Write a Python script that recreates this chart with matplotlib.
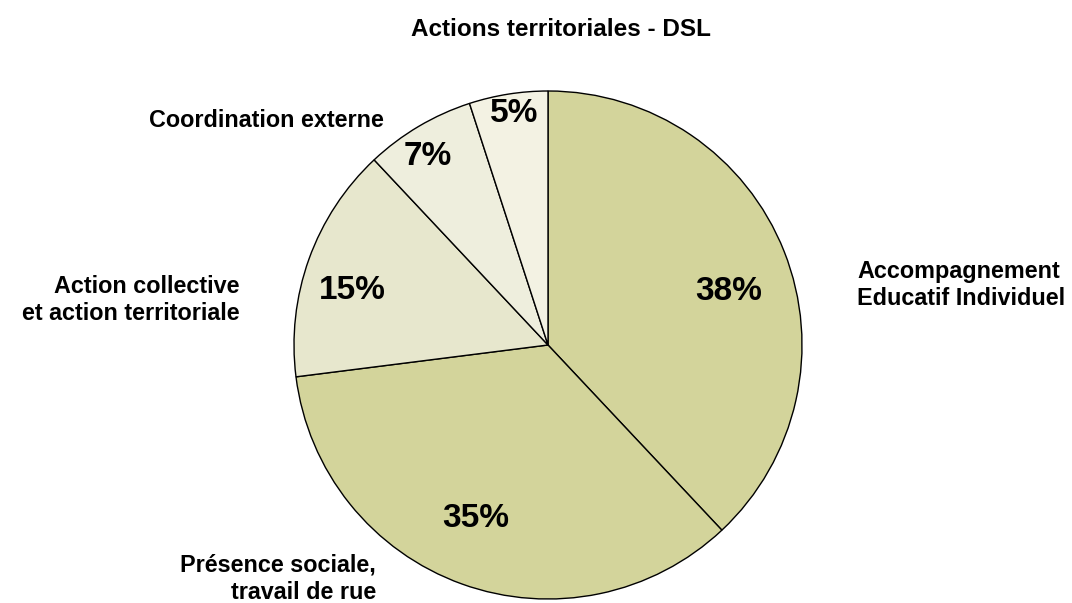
import numpy as np
import matplotlib
matplotlib.use("Agg")
import matplotlib.pyplot as plt

plt.rcParams["font.family"] = ["Liberation Sans", "DejaVu Sans"]

TITLE = "Actions territoriales - DSL"
categories = [
    "Accompagnement\nEducatif Individuel",
    "Présence sociale,\ntravail de rue",
    "Action collective\net action territoriale",
    "Coordination externe",
    "",
]
shares = [38, 35, 15, 7, 5]
colors = ["#d3d49b", "#d3d49b", "#e7e7cd", "#eeeedd", "#f3f2e3"]

# label placement (data units of the pie axes, radius = 1)
label_pos = [(1.217, 0.236), (-0.677, -0.921), (-1.213, 0.177), (-0.646, 0.882), (0, 0)]
label_ha = ["left", "right", "right", "right", "right"]
pct_pos = [(0.713, 0.209), (-0.283, -0.685), (-0.772, 0.213), (-0.472, 0.744), (-0.134, 0.913)]

W, H = 1072, 603
fig = plt.figure(figsize=(W / 100, H / 100), dpi=100)
cx, cy, r = 548, 345, 254
ax = fig.add_axes([(cx - r) / W, (H - cy - r) / H, 2 * r / W, 2 * r / H])

ax.pie(
    shares,
    colors=colors,
    startangle=90,
    counterclock=False,
    radius=1,
    wedgeprops={"edgecolor": "black", "linewidth": 1.0},
)
ax.set_xlim(-1, 1)
ax.set_ylim(-1, 1)
ax.set_aspect("equal")
ax.axis("off")

for val, (px, py) in zip(shares, pct_pos):
    ax.text(px, py, f"{val}%", ha="center", va="center",
            fontsize=24, fontweight="bold")

for lab, (lx, ly), ha in zip(categories, label_pos, label_ha):
    if lab:
        ax.text(lx, ly, lab, ha=ha, va="center", fontsize=16.8,
                fontweight="bold", linespacing=1.25, clip_on=False)

fig.text(cx / W + 0.012, 1 - 30 / H, TITLE, ha="center", va="center",
         fontsize=17.5, fontweight="bold")

fig.savefig("out.png", dpi=100)
